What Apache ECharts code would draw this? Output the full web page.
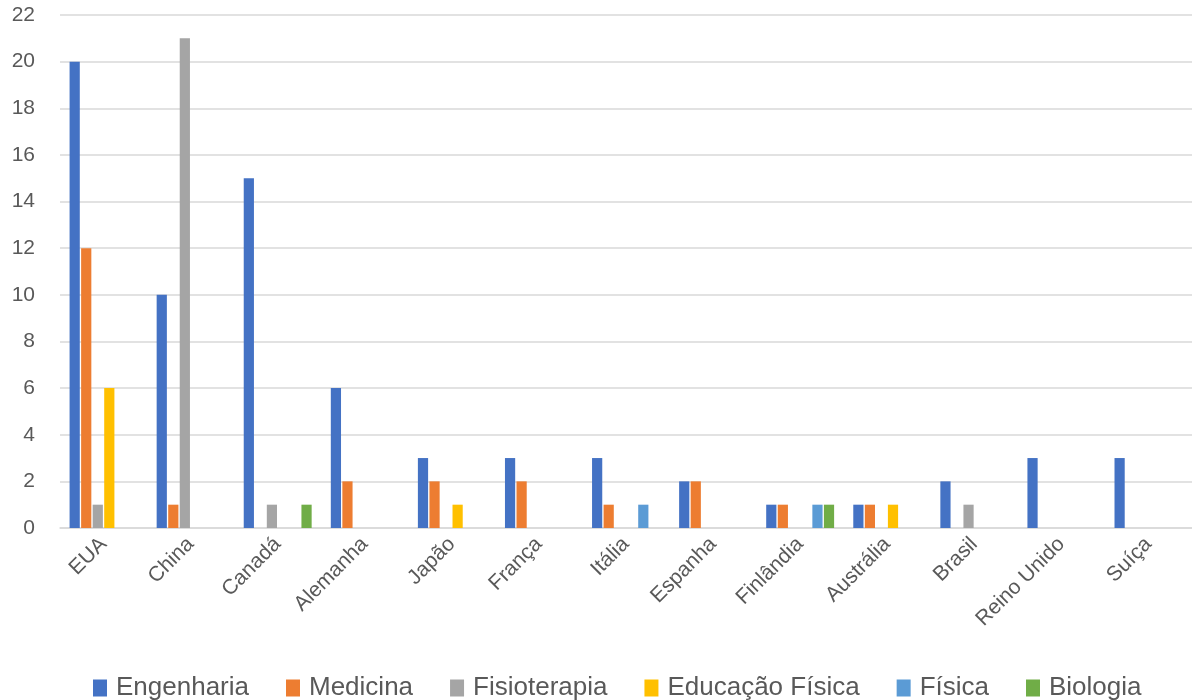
<!DOCTYPE html>
<html>
<head>
<meta charset="utf-8">
<script src="https://cdn.jsdelivr.net/npm/echarts@6/dist/echarts.min.js"></script>
<style>
  html, body { margin: 0; padding: 0; background: #fff; }
  #chart { width: 1192px; height: 700px; }
</style>
</head>
<body>
<div id="chart"></div>
<script>
// countries on the x axis
const paises = ["EUA", "China", "Canadá", "Alemanha", "Japão", "França", "Itália",
  "Espanha", "Finlândia", "Austrália", "Brasil", "Reino Unido", "Suíça"];

// one array per field (null = no bar)
const engenharia = [20, 10, 15, 6, 3, 3, 3, 2, 1, 1, 2, 3, 3];
const medicina = [12, 1, null, 2, 2, 2, 1, 2, 1, 1, null, null, null];
const fisioterapia = [1, 21, 1, null, null, null, null, null, null, null, 1, null, null];
const educacaoFisica = [6, null, null, null, 1, null, null, null, null, 1, null, null, null];
const fisica = [null, null, null, null, null, null, 1, null, 1, null, null, null, null];
const biologia = [null, null, 1, null, null, null, null, null, 1, null, null, null, null];

const yTicks = { min: 0, max: 22, step: 2 };

const FONT = "'Liberation Sans', Arial, sans-serif";
const TXT = "#595959";
const GRID = "#d9d9d9";

const series = [
  ["Engenharia", engenharia, "#4472C4"],
  ["Medicina", medicina, "#ED7D31"],
  ["Fisioterapia", fisioterapia, "#A5A5A5"],
  ["Educação Física", educacaoFisica, "#FFC000"],
  ["Física", fisica, "#5B9BD5"],
  ["Biologia", biologia, "#70AD47"],
].map(([name, data, color]) => ({
  name, type: "bar", data, color,
  barGap: "13%", barCategoryGap: "22%",
  itemStyle: { color },
}));

const chart = echarts.init(document.getElementById("chart"));
chart.setOption({
  animation: false,
  backgroundColor: "#fff",
  textStyle: { fontFamily: FONT },
  grid: { left: 60, right: 0, top: 15, bottom: 172, containLabel: false },
  legend: {
    top: 670, left: 88,
    itemWidth: 14, itemHeight: 17, itemGap: 37,
    icon: "rect",
    textStyle: { color: TXT, fontSize: 26, fontFamily: FONT, padding: [0, 0, 0, 4] },
  },
  xAxis: {
    type: "category", data: paises,
    axisLine: { lineStyle: { color: GRID, width: 1.5 } },
    axisTick: { show: false },
    axisLabel: { rotate: 45, color: TXT, fontSize: 21, margin: 13, interval: 0 },
  },
  yAxis: {
    type: "value", min: yTicks.min, max: yTicks.max, interval: yTicks.step,
    axisLine: { show: false }, axisTick: { show: false },
    axisLabel: { color: TXT, fontSize: 21, margin: 25 },
    splitLine: { lineStyle: { color: GRID, width: 1.5 } },
  },
  series,
});
</script>
</body>
</html>
